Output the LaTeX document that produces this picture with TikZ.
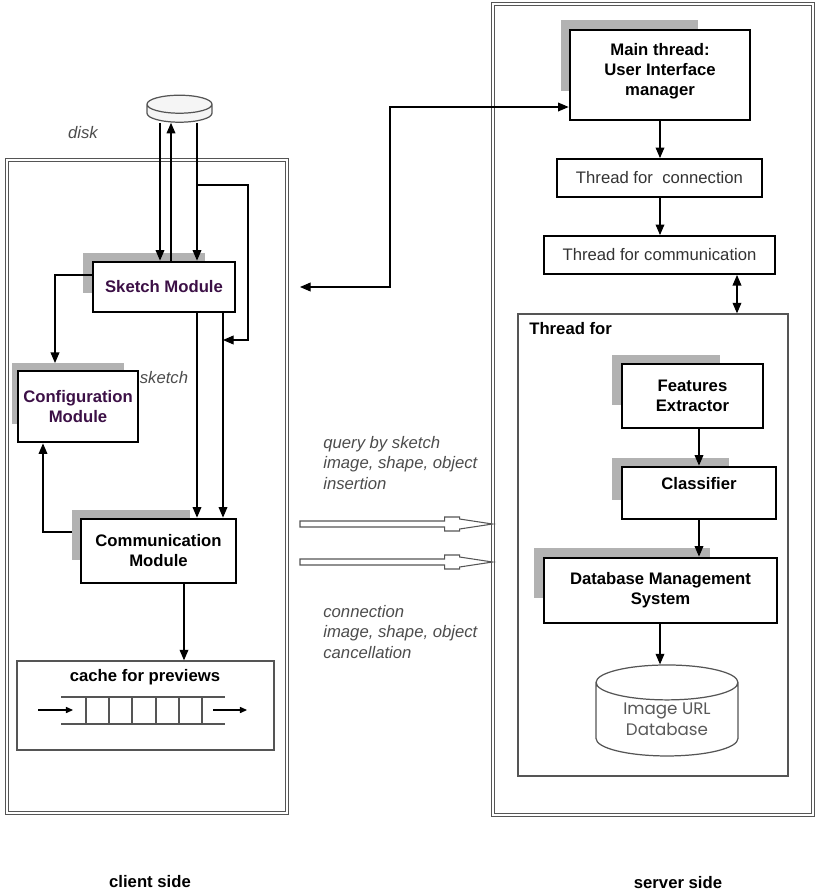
\documentclass[tikz,border=0pt]{standalone}
\usepackage{fontspec}
\setmainfont{Liberation Sans}
\newfontfamily\dbfont{Poppins}
\usetikzlibrary{arrows.meta,shapes.geometric,calc}
\definecolor{modpurple}{RGB}{60,16,70}
\definecolor{framegray}{RGB}{85,85,85}

\begin{document}
\begin{tikzpicture}[
    x=0.02cm, y=-0.02cm,
    modbox/.style={rectangle, draw, line width=1.6pt, fill=white, align=center,
                   inner sep=0pt, font=\fontsize{9.5}{11.4}\selectfont\bfseries},
    thrbox/.style={rectangle, draw, line width=1.1pt, fill=white, align=center,
                   inner sep=0pt, text=black!80, font=\fontsize{9.5}{11.4}\selectfont},
    shadowbox/.style={rectangle, fill=gray!60, inner sep=0pt, outer sep=0pt},
    sidebox/.style={rectangle, draw=framegray, double, double distance=1.2pt, line width=0.5pt},
    dbshape/.style={cylinder, shape border rotate=90, draw=framegray, line width=0.7pt,
                    fill=white, align=center, inner sep=0pt},
    notelabel/.style={font=\fontsize{9.5}{11.4}\selectfont\itshape, text=black!70,
                      align=left, inner sep=0pt},
    sidelabel/.style={font=\fontsize{9.5}{11.4}\selectfont\bfseries, inner sep=0pt},
    arrow/.style={-{Triangle[length=6pt,width=5pt]}, line width=0.6pt},
    dblarrow/.style={{Triangle[length=6pt,width=5pt]}-{Triangle[length=6pt,width=5pt]}, line width=0.6pt},
    smallarrow/.style={-{Triangle[length=4pt,width=3.5pt]}, line width=0.6pt},
    hollow/.style={draw=framegray, line width=0.6pt, fill=white}
]
\useasboundingbox (0,0) rectangle (816,894);

%% ---- guide coordinates ----
\coordinate (xa) at (160,0);
\coordinate (xb) at (171,0);
\coordinate (xc) at (197,0);
\coordinate (xd) at (223,0);
\coordinate (xe) at (248,0);
\coordinate (xf) at (55,0);
\coordinate (xg) at (43,0);
\coordinate (xh) at (184,0);
\coordinate (xi) at (390,0);
\coordinate (xj) at (300,0);
\coordinate (xk) at (737,0);
\coordinate (xl) at (699,0);
\coordinate (xm) at (660,0);
\coordinate (ya) at (0,275);
\coordinate (yb) at (0,107);
\coordinate (yc) at (0,532);
\coordinate (yd) at (0,185);
\coordinate (ye) at (0,340);

%% ---- client side ----
\node[sidebox, minimum width=5.6cm, minimum height=13.06cm] (client) at (147,486.5) {};
\node[dbshape, fill=gray!8, inner xsep=0.6cm, minimum width=1.3cm, minimum height=0.54cm,
      aspect=0.3] (disk) at (179.5,118) {};
\node[notelabel] (disklbl) at (83,133) {disk};

\node[shadowbox, minimum width=2.44cm, minimum height=0.8cm]  (sksh)  at (144,273)   {};
\node[shadowbox, minimum width=2.24cm, minimum height=1.22cm] (cfgsh) at (68,393.5)  {};
\node[shadowbox, minimum width=2.36cm, minimum height=1cm]    (comsh) at (131,535)   {};

\node[modbox, text=modpurple, minimum width=2.84cm, minimum height=1cm]  (sketch) at (164,287)   {Sketch Module};
\node[modbox, text=modpurple, minimum width=2.4cm, minimum height=1.42cm] (cfg)   at (78,406.5)  {Configuration\\Module};
\node[modbox, minimum width=3.1cm, minimum height=1.28cm]                 (comm)  at (158.5,551) {Communication\\Module};
\node[notelabel] (sklbl) at (164,378) {sketch};

\node[rectangle, draw=framegray, line width=0.8pt, minimum width=5.14cm, minimum height=1.78cm] (cache) at (145.5,705.5) {};
\node[sidelabel] (cachelbl) at (145,677) {cache for previews};
\draw[framegray, line width=0.8pt] (61,697) -- (225,697) (61,724) -- (225,724);
\foreach \qx in {86,109,132,156,179,202}
    \draw[framegray, line width=0.8pt] (\qx,697) -- (\qx,724);
\coordinate (qin) at (38,710);
\coordinate (qout) at (247,710);
\draw[smallarrow] (qin) -- ++(35,0);
\draw[smallarrow] (qout) ++(-34,0) -- (qout);

\draw[arrow] (disk.south -| xa) -- (sketch.north -| xa);
\draw[arrow] (sketch.north -| xb) -- (disk.south -| xb);
\draw[arrow] (disk.south -| xc) -- (sketch.north -| xc);
\draw[arrow] (xc |- yd) -| (xe |- ye) -- (xd |- ye);
\draw[arrow] (sketch.west |- ya) -| (cfgsh.north -| xf);
\draw[arrow] (sketch.south -| xc) -- (comm.north -| xc);
\draw[arrow] (sketch.south -| xd) -- (comm.north -| xd);
\draw[arrow] (comsh.west |- yc) -| (cfg.south -| xg);
\draw[arrow] (comm.south -| xh) -- (cache.north -| xh);

\node[sidelabel] (clientlbl) at (150,882) {client side};

%% ---- server side ----
\node[sidebox, minimum width=6.4cm, minimum height=16.22cm] (server) at (653,409.5) {};
\node[rectangle, draw=framegray, line width=0.8pt, minimum width=5.4cm, minimum height=9.24cm] (tfor) at (653,545) {};
\node[sidelabel, anchor=west] (tforlbl) at (529,329) {Thread for};

\node[shadowbox, minimum width=2.74cm, minimum height=1.42cm] (mainsh) at (629.5,55.5) {};
\node[shadowbox, minimum width=2.16cm, minimum height=1cm]    (feash)  at (666,380)    {};
\node[shadowbox, minimum width=2.34cm, minimum height=0.84cm] (clash)  at (670.5,479)  {};
\node[shadowbox, minimum width=3.52cm, minimum height=1cm]    (dbmsh)  at (622,573)    {};

\node[modbox, minimum width=3.6cm, minimum height=1.8cm]   (main)  at (660,75)      {Main thread:\\User Interface\\manager\\[-5pt]\mbox{}};
\node[thrbox, minimum width=4.1cm, minimum height=0.76cm]  (conn)  at (659.5,178)   {Thread for~ connection};
\node[thrbox, minimum width=4.62cm, minimum height=0.76cm] (commt) at (659.5,255)   {Thread for communication};
\node[modbox, minimum width=2.82cm, minimum height=1.28cm] (feat)  at (692.5,396)   {Features\\Extractor};
\node[modbox, minimum width=3.08cm, minimum height=1.04cm] (cls)   at (699,493)     {Classifier\\\mbox{}};
\node[modbox, minimum width=4.66cm, minimum height=1.3cm]  (dbms)  at (660.5,590.5) {Database Management\\System};
\node[dbshape, minimum width=2.84cm, minimum height=1.82cm, aspect=0.4,
      font=\dbfont\fontsize{9.5}{12}\selectfont, text=black!65] (db) at (667,719.5) {Image URL\\Database};

\draw[arrow] (main.south -| xm) -- (conn.north -| xm);
\draw[arrow] (conn.south -| xm) -- (commt.north -| xm);
\draw[dblarrow] (commt.south -| xk) -- (tfor.north -| xk);
\draw[arrow] (feat.south -| xl) -- (cls.north -| xl);
\draw[arrow] (cls.south -| xl) -- (dbms.north -| xl);
\draw[arrow] (dbms.south -| xm) -- (db.north -| xm);

\node[sidelabel] (serverlbl) at (678,883) {server side};

%% ---- between the two sides ----
\draw[dblarrow] (xj |- sketch) -| (xi |- yb) -- (main.west |- yb);

\node[notelabel, anchor=west] (qrylbl) at (323,463) {query by sketch\\image, shape, object\\insertion};
\node[notelabel, anchor=west] (cnclbl) at (323,632) {connection\\image, shape, object\\cancellation};

\foreach \hy [count=\n] in {524,562} {
    \coordinate (hs\n) at (300,\hy);
    \coordinate (he\n) at (server.west |- hs\n);
    \draw[hollow] ($(hs\n)+(0,-3)$) -- ($(he\n)+(-48,-3)$) -- ($(he\n)+(-48,-7)$)
        -- ($(he\n)+(-33,-7)$) -- ($(he\n)+(-33,-5)$) -- (he\n) -- ($(he\n)+(-33,5)$)
        -- ($(he\n)+(-33,7)$) -- ($(he\n)+(-48,7)$) -- ($(he\n)+(-48,3)$)
        -- ($(hs\n)+(0,3)$) -- cycle;
}

\end{tikzpicture}
\end{document}
